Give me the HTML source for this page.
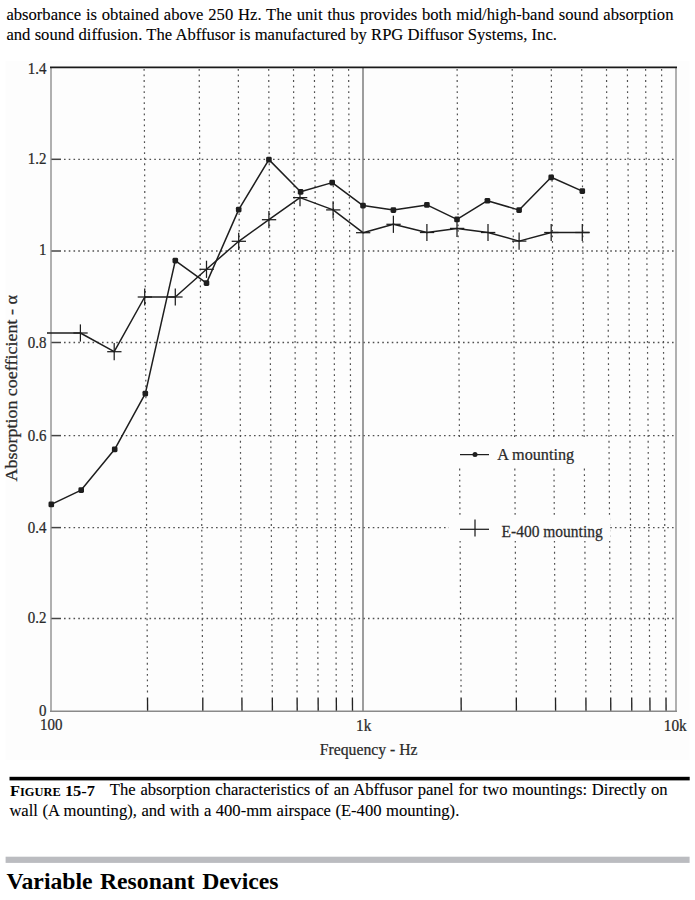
<!DOCTYPE html>
<html><head><meta charset="utf-8"><style>
html,body{margin:0;padding:0;background:#fff;width:695px;height:900px;overflow:hidden}
svg{display:block}
text{font-family:"Liberation Serif",serif}
.c text, text.c{stroke:#2a2a2a;stroke-width:0.25px}
text.b{stroke:#000;stroke-width:0.1px}
</style></head><body>
<svg width="695" height="900" viewBox="0 0 695 900">
<text x="6.4" y="19.7" class="b" font-size="16.6" fill="#000" style="word-spacing:0.71px">absorbance is obtained above 250 Hz. The unit thus provides both mid/high-band sound absorption</text>
<text x="6.4" y="39.7" class="b" font-size="16.6" fill="#000" style="word-spacing:0.13px">and sound diffusion. The Abffusor is manufactured by RPG Diffusor Systems, Inc.</text>
<rect x="5.5" y="61" width="684" height="699" fill="#fdfdfd"/>
<line x1="51" y1="618.5" x2="61" y2="618.5" stroke="#444" stroke-width="1.5"/>
<line x1="64" y1="618.5" x2="676" y2="618.5" stroke="#505050" stroke-width="1.3" stroke-dasharray="1.6 3.15"/>
<line x1="51" y1="527.6" x2="61" y2="527.6" stroke="#444" stroke-width="1.5"/>
<line x1="64" y1="527.6" x2="676" y2="527.6" stroke="#505050" stroke-width="1.3" stroke-dasharray="1.6 3.15"/>
<line x1="51" y1="435.6" x2="61" y2="435.6" stroke="#444" stroke-width="1.5"/>
<line x1="64" y1="435.6" x2="676" y2="435.6" stroke="#505050" stroke-width="1.3" stroke-dasharray="1.6 3.15"/>
<line x1="51" y1="342.5" x2="61" y2="342.5" stroke="#444" stroke-width="1.5"/>
<line x1="64" y1="342.5" x2="676" y2="342.5" stroke="#505050" stroke-width="1.3" stroke-dasharray="1.6 3.15"/>
<line x1="51" y1="251.0" x2="61" y2="251.0" stroke="#444" stroke-width="1.5"/>
<line x1="64" y1="251.0" x2="676" y2="251.0" stroke="#505050" stroke-width="1.3" stroke-dasharray="1.6 3.15"/>
<line x1="51" y1="159.3" x2="61" y2="159.3" stroke="#444" stroke-width="1.5"/>
<line x1="64" y1="159.3" x2="676" y2="159.3" stroke="#505050" stroke-width="1.3" stroke-dasharray="1.6 3.15"/>
<line x1="144.1" y1="69" x2="147.5" y2="695" stroke="#505050" stroke-width="1.2" stroke-dasharray="1.8 3.75"/>
<line x1="147.5" y1="697.5" x2="147.6" y2="711" stroke="#222" stroke-width="1.35"/>
<line x1="199.2" y1="69" x2="202.7" y2="695" stroke="#505050" stroke-width="1.2" stroke-dasharray="1.8 3.75"/>
<line x1="202.8" y1="697.5" x2="202.8" y2="711" stroke="#222" stroke-width="1.35"/>
<line x1="238.3" y1="69" x2="241.9" y2="695" stroke="#505050" stroke-width="1.2" stroke-dasharray="1.8 3.75"/>
<line x1="241.9" y1="697.5" x2="242.0" y2="711" stroke="#222" stroke-width="1.35"/>
<line x1="268.7" y1="69" x2="272.3" y2="695" stroke="#505050" stroke-width="1.2" stroke-dasharray="1.8 3.75"/>
<line x1="272.3" y1="697.5" x2="272.4" y2="711" stroke="#222" stroke-width="1.35"/>
<line x1="293.5" y1="69" x2="297.1" y2="695" stroke="#505050" stroke-width="1.2" stroke-dasharray="1.8 3.75"/>
<line x1="297.1" y1="697.5" x2="297.2" y2="711" stroke="#222" stroke-width="1.35"/>
<line x1="314.4" y1="69" x2="318.1" y2="695" stroke="#505050" stroke-width="1.2" stroke-dasharray="1.8 3.75"/>
<line x1="318.1" y1="697.5" x2="318.2" y2="711" stroke="#222" stroke-width="1.35"/>
<line x1="332.6" y1="69" x2="336.3" y2="695" stroke="#505050" stroke-width="1.2" stroke-dasharray="1.8 3.75"/>
<line x1="336.3" y1="697.5" x2="336.4" y2="711" stroke="#222" stroke-width="1.35"/>
<line x1="348.6" y1="69" x2="352.4" y2="695" stroke="#505050" stroke-width="1.2" stroke-dasharray="1.8 3.75"/>
<line x1="352.4" y1="697.5" x2="352.5" y2="711" stroke="#222" stroke-width="1.35"/>
<line x1="457.1" y1="69" x2="461.1" y2="695" stroke="#505050" stroke-width="1.2" stroke-dasharray="1.8 3.75"/>
<line x1="461.1" y1="697.5" x2="461.2" y2="711" stroke="#222" stroke-width="1.35"/>
<line x1="512.2" y1="69" x2="516.3" y2="695" stroke="#505050" stroke-width="1.2" stroke-dasharray="1.8 3.75"/>
<line x1="516.3" y1="697.5" x2="516.4" y2="711" stroke="#222" stroke-width="1.35"/>
<line x1="551.3" y1="69" x2="555.5" y2="695" stroke="#505050" stroke-width="1.2" stroke-dasharray="1.8 3.75"/>
<line x1="555.5" y1="697.5" x2="555.6" y2="711" stroke="#222" stroke-width="1.35"/>
<line x1="581.7" y1="69" x2="585.9" y2="695" stroke="#505050" stroke-width="1.2" stroke-dasharray="1.8 3.75"/>
<line x1="585.9" y1="697.5" x2="586.0" y2="711" stroke="#222" stroke-width="1.35"/>
<line x1="606.5" y1="69" x2="610.7" y2="695" stroke="#505050" stroke-width="1.2" stroke-dasharray="1.8 3.75"/>
<line x1="610.7" y1="697.5" x2="610.8" y2="711" stroke="#222" stroke-width="1.35"/>
<line x1="627.4" y1="69" x2="631.7" y2="695" stroke="#505050" stroke-width="1.2" stroke-dasharray="1.8 3.75"/>
<line x1="631.7" y1="697.5" x2="631.8" y2="711" stroke="#222" stroke-width="1.35"/>
<line x1="645.6" y1="69" x2="649.9" y2="695" stroke="#505050" stroke-width="1.2" stroke-dasharray="1.8 3.75"/>
<line x1="649.9" y1="697.5" x2="650.0" y2="711" stroke="#222" stroke-width="1.35"/>
<line x1="661.6" y1="69" x2="665.9" y2="695" stroke="#505050" stroke-width="1.2" stroke-dasharray="1.8 3.75"/>
<line x1="666.0" y1="697.5" x2="666.1" y2="711" stroke="#222" stroke-width="1.35"/>
<rect x="455" y="440" width="145" height="25" fill="#fdfdfd"/>
<rect x="449" y="516" width="161" height="25" fill="#fdfdfd"/>
<line x1="363" y1="67" x2="363" y2="711" stroke="#6a6a6a" stroke-width="1.3"/>
<line x1="51" y1="67" x2="51" y2="711.5" stroke="#8a8a8a" stroke-width="1.35"/>
<line x1="676" y1="67" x2="676" y2="711.5" stroke="#8a8a8a" stroke-width="1.35"/>
<line x1="50" y1="711.3" x2="677" y2="711.3" stroke="#8a8a8a" stroke-width="1.5"/>
<line x1="50" y1="67.4" x2="677" y2="67.4" stroke="#1a1a1a" stroke-width="1.7"/>
<polyline fill="none" stroke="#1e1e1e" stroke-width="1.5" stroke-linejoin="round" points="51.3,504.4 81.2,490.1 114.7,449.3 145.3,393.6 175.3,260.6 206.5,283.1 238.7,209.6 268.9,159.6 300.6,191.8 332.2,182.6 363,205.6 393.4,210 426.9,204.9 457,219.4 487.4,200.7 519.1,210.1 551.2,177.3 582.3,191.1"/>
<rect x="48.5" y="501.6" width="5.6" height="5.7" rx="1.4" fill="#1e1e1e"/>
<rect x="78.4" y="487.3" width="5.6" height="5.7" rx="1.4" fill="#1e1e1e"/>
<rect x="111.9" y="446.5" width="5.6" height="5.7" rx="1.4" fill="#1e1e1e"/>
<rect x="142.5" y="390.8" width="5.6" height="5.7" rx="1.4" fill="#1e1e1e"/>
<rect x="172.5" y="257.8" width="5.6" height="5.7" rx="1.4" fill="#1e1e1e"/>
<rect x="203.7" y="280.3" width="5.6" height="5.7" rx="1.4" fill="#1e1e1e"/>
<rect x="235.9" y="206.8" width="5.6" height="5.7" rx="1.4" fill="#1e1e1e"/>
<rect x="266.1" y="156.8" width="5.6" height="5.7" rx="1.4" fill="#1e1e1e"/>
<rect x="297.8" y="189.0" width="5.6" height="5.7" rx="1.4" fill="#1e1e1e"/>
<rect x="329.4" y="179.8" width="5.6" height="5.7" rx="1.4" fill="#1e1e1e"/>
<rect x="360.2" y="202.8" width="5.6" height="5.7" rx="1.4" fill="#1e1e1e"/>
<rect x="390.6" y="207.2" width="5.6" height="5.7" rx="1.4" fill="#1e1e1e"/>
<rect x="424.1" y="202.1" width="5.6" height="5.7" rx="1.4" fill="#1e1e1e"/>
<rect x="454.2" y="216.6" width="5.6" height="5.7" rx="1.4" fill="#1e1e1e"/>
<rect x="484.6" y="197.9" width="5.6" height="5.7" rx="1.4" fill="#1e1e1e"/>
<rect x="516.3" y="207.3" width="5.6" height="5.7" rx="1.4" fill="#1e1e1e"/>
<rect x="548.4" y="174.5" width="5.6" height="5.7" rx="1.4" fill="#1e1e1e"/>
<rect x="579.5" y="188.3" width="5.6" height="5.7" rx="1.4" fill="#1e1e1e"/>
<polyline fill="none" stroke="#1e1e1e" stroke-width="1.5" stroke-linejoin="round" points="47,333 80.4,333 114.2,351.7 144.7,297 175.3,297 206.5,269.3 238.7,241.3 268.9,219.7 300,197.6 333.1,209.9 363,232.7 393.4,224.3 426.9,232.5 457,228.4 488,232.5 519.1,241.1 551.2,232.5 582.3,232.5 589.5,232.5"/>
<line x1="73.4" y1="333" x2="87.7" y2="333" stroke="#1e1e1e" stroke-width="1.25"/>
<line x1="80.4" y1="324.4" x2="80.4" y2="341.6" stroke="#1e1e1e" stroke-width="1.25"/>
<line x1="107.2" y1="351.7" x2="121.5" y2="351.7" stroke="#1e1e1e" stroke-width="1.25"/>
<line x1="114.2" y1="343.1" x2="114.2" y2="360.3" stroke="#1e1e1e" stroke-width="1.25"/>
<line x1="137.7" y1="297" x2="152.0" y2="297" stroke="#1e1e1e" stroke-width="1.25"/>
<line x1="144.7" y1="288.4" x2="144.7" y2="305.6" stroke="#1e1e1e" stroke-width="1.25"/>
<line x1="168.3" y1="297" x2="182.6" y2="297" stroke="#1e1e1e" stroke-width="1.25"/>
<line x1="175.3" y1="288.4" x2="175.3" y2="305.6" stroke="#1e1e1e" stroke-width="1.25"/>
<line x1="199.5" y1="269.3" x2="213.8" y2="269.3" stroke="#1e1e1e" stroke-width="1.25"/>
<line x1="206.5" y1="260.7" x2="206.5" y2="277.9" stroke="#1e1e1e" stroke-width="1.25"/>
<line x1="231.7" y1="241.3" x2="246.0" y2="241.3" stroke="#1e1e1e" stroke-width="1.25"/>
<line x1="238.7" y1="232.7" x2="238.7" y2="249.9" stroke="#1e1e1e" stroke-width="1.25"/>
<line x1="261.9" y1="219.7" x2="276.2" y2="219.7" stroke="#1e1e1e" stroke-width="1.25"/>
<line x1="268.9" y1="211.1" x2="268.9" y2="228.3" stroke="#1e1e1e" stroke-width="1.25"/>
<line x1="293.0" y1="197.6" x2="307.3" y2="197.6" stroke="#1e1e1e" stroke-width="1.25"/>
<line x1="300" y1="189.0" x2="300" y2="206.2" stroke="#1e1e1e" stroke-width="1.25"/>
<line x1="326.1" y1="209.9" x2="340.4" y2="209.9" stroke="#1e1e1e" stroke-width="1.25"/>
<line x1="333.1" y1="201.3" x2="333.1" y2="218.5" stroke="#1e1e1e" stroke-width="1.25"/>
<line x1="356.0" y1="232.7" x2="370.3" y2="232.7" stroke="#1e1e1e" stroke-width="1.25"/>
<line x1="386.4" y1="224.3" x2="400.7" y2="224.3" stroke="#1e1e1e" stroke-width="1.25"/>
<line x1="393.4" y1="215.7" x2="393.4" y2="232.9" stroke="#1e1e1e" stroke-width="1.25"/>
<line x1="419.9" y1="232.5" x2="434.2" y2="232.5" stroke="#1e1e1e" stroke-width="1.25"/>
<line x1="426.9" y1="223.9" x2="426.9" y2="241.1" stroke="#1e1e1e" stroke-width="1.25"/>
<line x1="450.0" y1="228.4" x2="464.3" y2="228.4" stroke="#1e1e1e" stroke-width="1.25"/>
<line x1="457" y1="219.8" x2="457" y2="237.0" stroke="#1e1e1e" stroke-width="1.25"/>
<line x1="481.0" y1="232.5" x2="495.3" y2="232.5" stroke="#1e1e1e" stroke-width="1.25"/>
<line x1="488" y1="223.9" x2="488" y2="241.1" stroke="#1e1e1e" stroke-width="1.25"/>
<line x1="512.1" y1="241.1" x2="526.4" y2="241.1" stroke="#1e1e1e" stroke-width="1.25"/>
<line x1="519.1" y1="232.5" x2="519.1" y2="249.7" stroke="#1e1e1e" stroke-width="1.25"/>
<line x1="544.2" y1="232.5" x2="558.5" y2="232.5" stroke="#1e1e1e" stroke-width="1.25"/>
<line x1="551.2" y1="223.9" x2="551.2" y2="241.1" stroke="#1e1e1e" stroke-width="1.25"/>
<line x1="575.3" y1="232.5" x2="589.6" y2="232.5" stroke="#1e1e1e" stroke-width="1.25"/>
<line x1="582.3" y1="223.9" x2="582.3" y2="241.1" stroke="#1e1e1e" stroke-width="1.25"/>
<line x1="460" y1="454.6" x2="489" y2="454.6" stroke="#1e1e1e" stroke-width="1.25"/>
<circle cx="475" cy="454.6" r="2.5" fill="#1e1e1e"/>
<line x1="460" y1="529.3" x2="489" y2="529.3" stroke="#1e1e1e" stroke-width="1.25"/>
<line x1="475" y1="519.6" x2="475" y2="536.6" stroke="#1e1e1e" stroke-width="1.25"/>
<text transform="translate(497.2 459.6) scale(0.965 1)" font-size="16.8" fill="#2a2a2a" class="c" text-anchor="start" >A mounting</text>
<text transform="translate(501.6 536.6) scale(0.912 1)" font-size="17" fill="#2a2a2a" class="c" text-anchor="start" >E-400 mounting</text>
<text transform="translate(46.4 73.7) scale(0.88 1)" font-size="17" fill="#2a2a2a" class="c" text-anchor="end" >1.4</text>
<text transform="translate(46.4 164.4) scale(0.88 1)" font-size="17" fill="#2a2a2a" class="c" text-anchor="end" >1.2</text>
<text transform="translate(46.4 255.2) scale(0.88 1)" font-size="17" fill="#2a2a2a" class="c" text-anchor="end" >1</text>
<text transform="translate(46.4 348.4) scale(0.88 1)" font-size="17" fill="#2a2a2a" class="c" text-anchor="end" >0.8</text>
<text transform="translate(46.4 440.7) scale(0.88 1)" font-size="17" fill="#2a2a2a" class="c" text-anchor="end" >0.6</text>
<text transform="translate(46.4 532.6) scale(0.88 1)" font-size="17" fill="#2a2a2a" class="c" text-anchor="end" >0.4</text>
<text transform="translate(46.4 623.2) scale(0.88 1)" font-size="17" fill="#2a2a2a" class="c" text-anchor="end" >0.2</text>
<text transform="translate(46.4 715.9) scale(0.88 1)" font-size="17" fill="#2a2a2a" class="c" text-anchor="end" >0</text>
<text transform="translate(40 730.3) scale(0.88 1)" font-size="17" fill="#2a2a2a" class="c" text-anchor="start" >100</text>
<text transform="translate(356 730.5) scale(0.9 1)" font-size="17" fill="#2a2a2a" class="c" text-anchor="start" >1k</text>
<text transform="translate(663.8 730.5) scale(0.9 1)" font-size="17" fill="#2a2a2a" class="c" text-anchor="start" >10k</text>
<text transform="translate(319.8 754.5) scale(0.925 1)" font-size="17" fill="#2a2a2a" class="c" text-anchor="start" >Frequency - Hz</text>
<text transform="translate(17.1,481.6) rotate(-90)" font-size="16.5" fill="#2a2a2a" class="c" textLength="186.5" lengthAdjust="spacingAndGlyphs">Absorption coefficient - α</text>
<rect x="9.5" y="776.8" width="680.2" height="3.6" fill="#000"/>
<text x="10" y="795.6" font-size="15.6" font-weight="bold" fill="#000" textLength="85" lengthAdjust="spacingAndGlyphs">F<tspan font-size="11.8">IGURE</tspan> 15-7</text>
<text x="109.8" y="795.3" class="b" font-size="16.6" fill="#000" style="word-spacing:0.68px">The absorption characteristics of an Abffusor panel for two mountings: Directly on</text>
<text x="9.4" y="815.8" class="b" font-size="16.6" fill="#000" style="word-spacing:0.37px">wall (A mounting), and with a 400-mm airspace (E-400 mounting).</text>
<rect x="5.6" y="856.7" width="684" height="6.2" fill="#bbbcc0"/>
<text x="6.6" y="889.4" font-size="23.7" font-weight="bold" fill="#000" style="word-spacing:1.5px">Variable Resonant Devices</text>
</svg>
</body></html>
